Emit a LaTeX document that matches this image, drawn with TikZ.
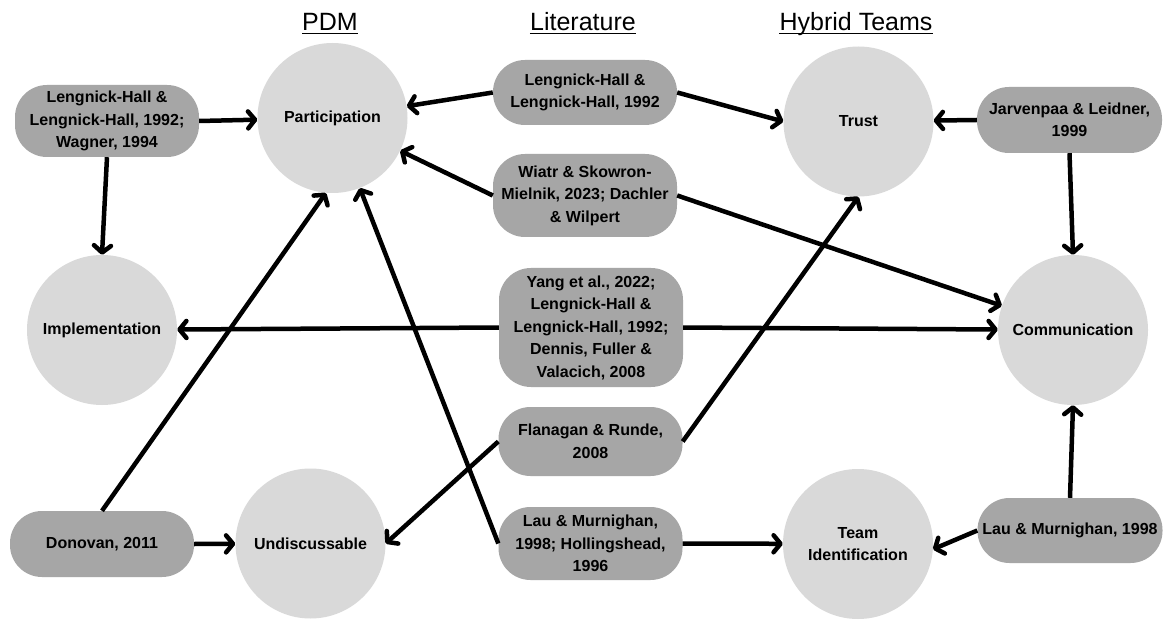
\documentclass[tikz,border=0pt]{standalone}
\usepackage{fontspec}
\setmainfont{Liberation Sans}
\usetikzlibrary{arrows.meta}

\definecolor{kreis_grau}{RGB}{217,217,217}
\definecolor{quelle_grau}{RGB}{166,166,166}

\begin{document}
\begin{tikzpicture}[
      x=1pt, y=-1pt,
      kreis/.style={
        shape=circle,
        fill=kreis_grau,
        minimum size=150pt,
        inner sep=0pt,
        align=center,
        font=\bfseries\fontsize{16}{22.5}\selectfont
      },
      quelle/.style={
        shape=rectangle,
        rounded corners=32pt,
        fill=quelle_grau,
        minimum width=184pt,
        inner sep=0pt,
        align=center,
        font=\bfseries\fontsize{16}{22.5}\selectfont
      },
      titel/.style={anchor=base, inner sep=0pt, font=\fontsize{25}{30}\selectfont},
      pfeil/.style={line width=4.5pt, -{Straight Barb[length=7pt,width=17pt,round]}}
    ]

      \fill [white] (0,0) rectangle (1167,620);
      \useasboundingbox (0,0) rectangle (1167,620);

      % Ueberschriften
      \node [titel] (t_pdm) at (330,31) {PDM};
      \node [titel] (t_lit) at (583,31) {Literature};
      \node [titel] (t_hyb) at (856,31) {Hybrid Teams};
      \foreach \t in {t_pdm,t_lit,t_hyb}
      { \draw [line width=1.8pt] ([yshift=-2.5pt]\t.base west) -- ([yshift=-2.5pt]\t.base east);
      }

      % Kreise
      \node [kreis] (part)   at (332.5,118) {Participation};
      \node [kreis] (trust)  at (858.5,121.5) {Trust};
      \node [kreis] (impl)   at (102,330) {Implementation};
      \node [kreis] (comm)   at (1073,330) {Communication};
      \node [kreis] (undisc) at (310.5,543.5) {Undiscussable};
      \node [kreis] (teamid) at (858,544) {Team\\Identification};

      % Literatur
      \node [quelle, minimum height=72pt] (lh_left) at (107,121) {Lengnick-Hall \&\\Lengnick-Hall, 1992;\\Wagner, 1994};
      \node [quelle, minimum height=66pt] (don) at (102,544) {Donovan, 2011};
      \node [quelle, minimum height=65pt] (lit_lh) at (585,92.5) {Lengnick-Hall \&\\Lengnick-Hall, 1992};
      \node [quelle, minimum height=83pt] (lit_wiatr) at (585,195.5) {Wiatr \& Skowron-\\Mielnik, 2023; Dachler\\\& Wilpert};
      \node [quelle, minimum height=119pt] (lit_yang) at (591,327.5) {Yang et al., 2022;\\Lengnick-Hall \&\\Lengnick-Hall, 1992;\\Dennis, Fuller \&\\Valacich, 2008};
      \node [quelle, minimum height=69pt] (lit_flan) at (590.5,441.5) {Flanagan \& Runde,\\2008};
      \node [quelle, minimum height=73pt] (lit_lau) at (590.5,543.5) {Lau \& Murnighan,\\1998; Hollingshead,\\1996};
      \node [quelle, minimum height=66pt, minimum width=185pt] (jarv) at (1069.5,120) {Jarvenpaa \& Leidner,\\1999};
      \node [quelle, minimum height=65pt, minimum width=185pt] (lau_right) at (1070,530.5) {Lau \& Murnighan, 1998};

      % Pfeile
      \draw [pfeil] (lh_left.east) -- (part);
      \draw [pfeil] (lh_left.south) -- (impl.north);
      \draw [pfeil] (don.east) -- (undisc);
      \draw [pfeil] (don.north) -- (part.265);
      \draw [pfeil] (lit_lh.west) -- (part);
      \draw [pfeil] (lit_lh.east) -- (trust.west);
      \draw [pfeil] (lit_wiatr.west) -- (part);
      \draw [pfeil] (lit_wiatr.east) -- (comm);
      \draw [pfeil] (lit_yang.west) -- (impl);
      \draw [pfeil] (lit_yang.east) -- (comm);
      \draw [pfeil] (lit_flan.west) -- (undisc.east);
      \draw [pfeil] (lit_flan.east) -- (trust.south);
      \draw [pfeil] (lit_lau.west) -- (part);
      \draw [pfeil] (lit_lau.east) -- (teamid);
      \draw [pfeil] (jarv.west) -- (trust);
      \draw [pfeil] (jarv.south) -- (comm.north);
      \draw [pfeil] (lau_right.north) -- (comm.south);
      \draw [pfeil] (lau_right.west) -- (teamid.-4);
    \end{tikzpicture}
\end{document}
